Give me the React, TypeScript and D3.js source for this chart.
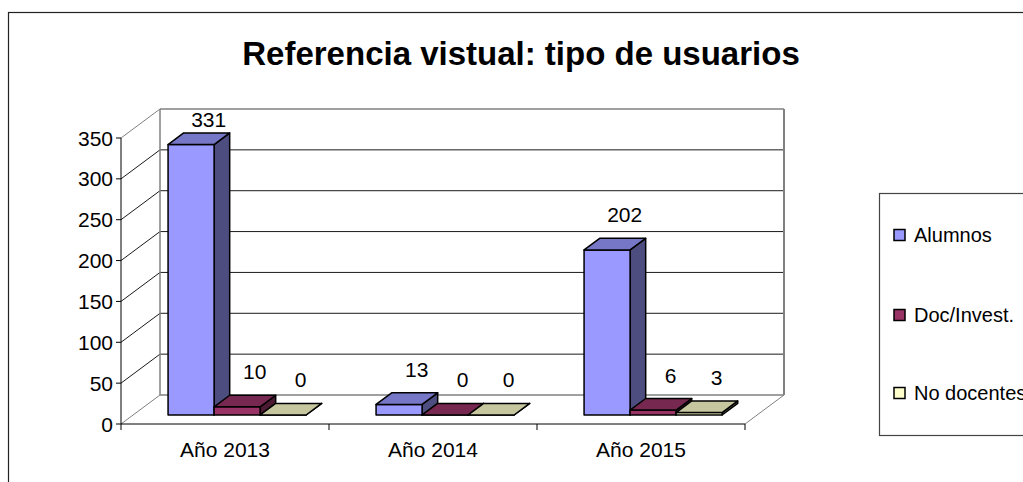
import React from "react";
import * as d3 from "d3";

const title = "Referencia vistual: tipo de usuarios";
const categories = ["Año 2013", "Año 2014", "Año 2015"];
const seriesNames = ["Alumnos", "Doc/Invest.", "No docentes"];
const alumnos = [331, 13, 202];
const docInvest = [10, 0, 6];
const noDocentes = [0, 0, 3];
const seriesColors = ["#9999FF", "#993366", "#FFFFCC"];
const yTicks = [0, 50, 100, 150, 200, 250, 300, 350];

const seriesValues = [alumnos, docInvest, noDocentes];

function shade(c: string, k: number) {
  const col = d3.rgb(c);
  return d3.rgb(col.r * k, col.g * k, col.b * k).formatHex();
}

export default function App() {
  const FONT = "'Liberation Sans', Arial, sans-serif";
  const x0 = 121, x1 = 745, yBase = 424, yTop = 138;
  const DX = 39, DY = -29; // full depth offset
  const z0 = 0.31, z1 = 0.71;

  const y = d3.scaleLinear().domain([0, 350]).range([yBase, yTop]);
  const xCat = d3.scaleBand<string>().domain(categories).range([x0, x1]).paddingInner(0).paddingOuter(0);
  const xSer = d3.scaleBand<string>().domain(seriesNames).range([0, xCat.bandwidth()]).paddingInner(0).paddingOuter(0.76);

  const P = (x: number, yy: number, z: number): [number, number] => [x + DX * z, yy + DY * z];
  const pts = (arr: [number, number][]) => arr.map((p) => p.join(",")).join(" ");

  const wallTop = yTop + DY;
  const bars: React.ReactNode[] = [];
  const labels: React.ReactNode[] = [];
  categories.forEach((cat, ci) => {
    seriesNames.forEach((s, si) => {
      const v = seriesValues[si][ci];
      const bx0 = (xCat(cat) as number) + (xSer(s) as number);
      const bx1 = bx0 + xSer.bandwidth();
      const yt = y(v), yb = y(0);
      const col = seriesColors[si];
      const front = [P(bx0, yt, z0), P(bx1, yt, z0), P(bx1, yb, z0), P(bx0, yb, z0)];
      const top = [P(bx0, yt, z0), P(bx0, yt, z1), P(bx1, yt, z1), P(bx1, yt, z0)];
      const side = [P(bx1, yt, z0), P(bx1, yt, z1), P(bx1, yb, z1), P(bx1, yb, z0)];
      bars.push(
        <g key={`b-${ci}-${si}`} stroke="#000" strokeWidth={1.5} strokeLinejoin="round">
          <polygon points={pts(side)} fill={shade(col, 0.5)} />
          <polygon points={pts(front)} fill={col} />
          <polygon points={pts(top)} fill={shade(col, 0.78)} />
        </g>
      );
      const backTop = P((bx0 + bx1) / 2, yt, z1);
      const ly = Math.max(backTop[1] - 16, wallTop + 18);
      labels.push(
        <text key={`l-${ci}-${si}`} x={backTop[0] + 2} y={ly} textAnchor="middle" fontSize={21} fontFamily={FONT} fill="#000">
          {v}
        </text>
      );
    });
  });

  const gridLines = yTicks.map((t) => {
    const a = P(x0, y(t), 0), b = P(x0, y(t), 1), c = P(x1, y(t), 1);
    const edge = t === 0 || t === 350;
    const stroke = edge ? "#808080" : "#1a1a1a";
    return (
      <g key={`g-${t}`}>
        <line x1={a[0]} y1={a[1]} x2={b[0]} y2={b[1]} stroke={stroke} strokeWidth={1} />
        <line x1={b[0]} y1={b[1]} x2={c[0]} y2={c[1]} stroke={stroke} strokeWidth={edge ? 1.5 : 1} />
      </g>
    );
  });

  const wbl = P(x0, y(0), 1), wtl = P(x0, y(350), 1), wtr = P(x1, y(350), 1), wbr = P(x1, y(0), 1);
  const frontRight: [number, number] = [x1, yBase];

  const legendY = [235, 315, 393];

  return (
    <svg width={1023} height={482} style={{ position: "absolute", left: 0, top: 0, background: "#fff" }}>
      <rect x={0} y={0} width={1023} height={482} fill="#fff" />
      <rect x={8.5} y={12.5} width={1040} height={500} fill="#fff" stroke="#222" strokeWidth={1.2} />
      <text x={521} y={65} textAnchor="middle" fontSize={33} fontWeight="bold" fontFamily={FONT} fill="#000">
        {title}
      </text>

      {/* walls */}
      <polygon points={pts([wbl, wtl, wtr, wbr])} fill="#fff" stroke="none" />
      {gridLines}
      <line x1={wbl[0]} y1={wbl[1]} x2={wtl[0]} y2={wtl[1]} stroke="#808080" strokeWidth={1.5} />
      <line x1={wtr[0]} y1={wtr[1]} x2={wbr[0]} y2={wbr[1]} stroke="#808080" strokeWidth={2} />
      <line x1={frontRight[0]} y1={frontRight[1]} x2={wbr[0]} y2={wbr[1]} stroke="#808080" strokeWidth={1} />

      {/* axes */}
      <line x1={x0} y1={yTop} x2={x0} y2={yBase} stroke="#000" strokeWidth={1} />
      <line x1={x0} y1={yBase} x2={x1} y2={yBase} stroke="#000" strokeWidth={1} />
      {yTicks.map((t) => (
        <g key={`yt-${t}`}>
          <line x1={x0 - 5} y1={y(t)} x2={x0} y2={y(t)} stroke="#000" />
          <text x={x0 - 8} y={y(t)} dy="0.36em" textAnchor="end" fontSize={21} fontFamily={FONT} fill="#000">
            {t}
          </text>
        </g>
      ))}
      {[...categories.map((c) => xCat(c) as number), x1].map((xx, i) => (
        <line key={`xt-${i}`} x1={xx} y1={yBase} x2={xx} y2={yBase + 6} stroke="#000" />
      ))}
      {categories.map((c) => (
        <text key={`xl-${c}`} x={(xCat(c) as number) + xCat.bandwidth() / 2} y={457} textAnchor="middle" fontSize={21} fontFamily={FONT} fill="#000">
          {c}
        </text>
      ))}

      {bars}
      {labels}

      {/* legend */}
      <rect x={879.5} y={193.5} width={200} height={242} fill="#fff" stroke="#444" strokeWidth={1.2} />
      {seriesNames.map((s, i) => (
        <g key={`lg-${s}`}>
          <rect x={894} y={legendY[i] - 5.5} width={11} height={11} fill={seriesColors[i]} stroke="#000" strokeWidth={1.5} />
          <text x={914} y={legendY[i]} dy="0.36em" fontSize={20} fontFamily={FONT} fill="#000">
            {s}
          </text>
        </g>
      ))}
    </svg>
  );
}
